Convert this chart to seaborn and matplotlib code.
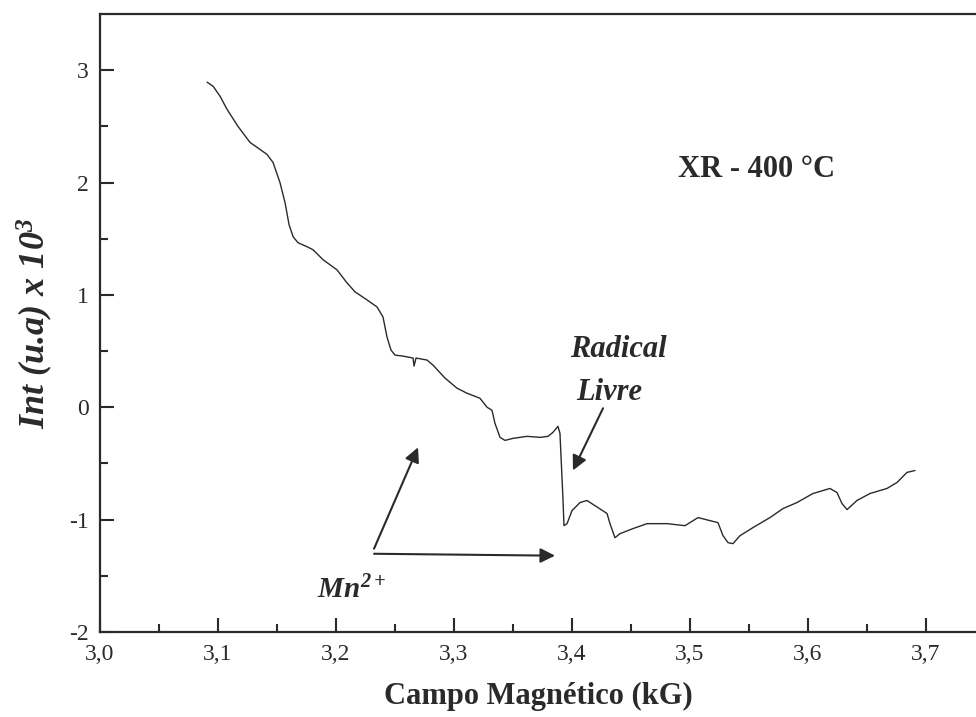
import matplotlib
matplotlib.use("Agg")
import matplotlib.pyplot as plt
import matplotlib.ticker
import numpy as np
import pandas as pd
import seaborn as sns

# EPR spectrum (field in kG, intensity in u.a. x 10^3)
campo = [3.0907, 3.0958, 3.1017, 3.1076, 3.1169, 3.1271, 3.1331, 3.1415, 3.1466, 3.1525,
         3.1568, 3.1602, 3.1636, 3.1678, 3.1754, 3.1805, 3.1890, 3.2008, 3.2093, 3.2161,
         3.2263, 3.2347, 3.2398, 3.2432, 3.2466, 3.2500, 3.2568, 3.2653, 3.2661, 3.2678,
         3.2771, 3.2822, 3.2924, 3.3025, 3.3110, 3.3220, 3.3280, 3.3322, 3.3347, 3.3390,
         3.3432, 3.3500, 3.3619, 3.3729, 3.3797, 3.3839, 3.3881, 3.3898, 3.3924, 3.3932,
         3.3958, 3.4000, 3.4068, 3.4127, 3.4220, 3.4297, 3.4322, 3.4364, 3.4407, 3.4517,
         3.4636, 3.4805, 3.4958, 3.5068, 3.5169, 3.5237, 3.5280, 3.5322, 3.5364, 3.5424,
         3.5534, 3.5678, 3.5788, 3.5907, 3.6042, 3.6186, 3.6246, 3.6288, 3.6331, 3.6415,
         3.6525, 3.6669, 3.6754, 3.6839, 3.6907]
intensidade = [2.893, 2.857, 2.768, 2.652, 2.500, 2.357, 2.313, 2.250, 2.179, 2.000,
               1.821, 1.625, 1.518, 1.464, 1.429, 1.402, 1.313, 1.223, 1.107, 1.027,
               0.955, 0.893, 0.804, 0.625, 0.509, 0.464, 0.455, 0.438, 0.366, 0.438,
               0.420, 0.375, 0.259, 0.170, 0.125, 0.080, 0.000, -0.027, -0.143, -0.268,
               -0.295, -0.277, -0.259, -0.268, -0.259, -0.223, -0.170, -0.232, -0.830, -1.054,
               -1.036, -0.920, -0.848, -0.830, -0.893, -0.946, -1.036, -1.161, -1.125, -1.080,
               -1.036, -1.036, -1.054, -0.982, -1.009, -1.027, -1.143, -1.205, -1.214, -1.143,
               -1.071, -0.982, -0.902, -0.848, -0.768, -0.723, -0.759, -0.857, -0.911, -0.830,
               -0.768, -0.723, -0.670, -0.580, -0.563]

sns.set_style("ticks")
plt.rcParams["font.family"] = ["Liberation Serif", "DejaVu Serif"]
plt.rcParams["axes.unicode_minus"] = False
plt.rcParams["mathtext.fontset"] = "custom"
plt.rcParams["mathtext.rm"] = "Liberation Serif:bold:italic"
plt.rcParams["mathtext.it"] = "Liberation Serif:bold:italic"
plt.rcParams["mathtext.bf"] = "Liberation Serif:bold:italic"

ink = "#2a2a2a"
df = pd.DataFrame({"campo": campo, "intensidade": intensidade})

fig = plt.figure(figsize=(9.76, 7.17), dpi=100)
ax = fig.add_axes([0.1025, 0.1186, 0.8975, 0.8619])

sns.lineplot(data=df, x="campo", y="intensidade", ax=ax, sort=False, estimator=None,
             color=ink, linewidth=1.0)

ax.set_xlim(3.0, 3.7424)
ax.set_ylim(-2.0, 3.5)

ax.xaxis.set_major_locator(matplotlib.ticker.MultipleLocator(0.1))
ax.xaxis.set_minor_locator(matplotlib.ticker.MultipleLocator(0.05))
ax.yaxis.set_major_locator(matplotlib.ticker.MultipleLocator(1))
ax.yaxis.set_minor_locator(matplotlib.ticker.FixedLocator([-1.5, -0.5, 0.5, 1.5, 2.5]))
ax.xaxis.set_major_formatter(matplotlib.ticker.FuncFormatter(
    lambda v, _: f"{v:.1f}".replace(".", ",")))
ax.yaxis.set_major_formatter(matplotlib.ticker.FuncFormatter(lambda v, _: f"{v:.0f}"))

ax.tick_params(which="both", direction="in", color=ink, width=1.5, labelsize=17,
               labelcolor=ink, top=False, right=False)
ax.tick_params(which="major", length=10)
ax.tick_params(which="minor", length=5.5)
ax.tick_params(axis="x", pad=9)
ax.tick_params(axis="y", pad=8)

for side in ["left", "bottom", "top"]:
    ax.spines[side].set_linewidth(1.6)
    ax.spines[side].set_color(ink)
ax.spines["right"].set_visible(False)

ax.set_xlabel("Campo Magnético (kG)", fontsize=22, fontweight="bold", color=ink, labelpad=12)
ax.set_ylabel(r"Int (u.a) x 10$^{3}$", fontsize=26, fontweight="bold",
              fontstyle="italic", color=ink, labelpad=10)

ax.text(3.556, 2.116, "XR - 400 °C", fontsize=22, fontweight="bold", color=ink,
        ha="center", va="center")
ax.text(3.4390, 0.51, "Radical", fontsize=22, fontweight="bold", fontstyle="italic",
        color=ink, ha="center", va="center")
ax.text(3.4314, 0.134, "Livre", fontsize=22, fontweight="bold", fontstyle="italic",
        color=ink, ha="center", va="center")
ax.text(3.213, -1.63, r"$Mn^{2+}$", fontsize=21, color=ink, ha="center", va="center")

arrow = dict(arrowstyle="-|>", mutation_scale=22, lw=1.5, color=ink, shrinkA=0, shrinkB=0)
ax.annotate("", xy=(3.4008, -0.5625), xytext=(3.4263, -0.009), arrowprops=arrow)
ax.annotate("", xy=(3.2695, -0.357), xytext=(3.2322, -1.259), arrowprops=arrow)
ax.annotate("", xy=(3.3856, -1.321), xytext=(3.2322, -1.304), arrowprops=arrow)

fig.savefig("out.png", dpi=100)
